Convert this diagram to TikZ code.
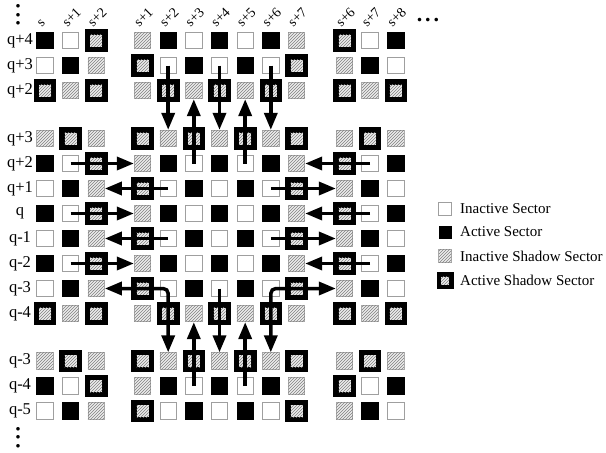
\documentclass[tikz,border=0pt]{standalone}
\usepackage{fontspec}
\setmainfont{Liberation Serif}
\usetikzlibrary{positioning,arrows.meta,patterns}

\begin{document}
\begin{tikzpicture}[
  x=1pt, y=-1pt,
  font=\fontsize{16.5}{18}\selectfont,
  ashin/.store in=\ashin, ashin=6pt,
  sq/.style={rectangle, minimum size=16.5pt, inner sep=0pt, line width=0.8pt},
  sqW/.style={sq, draw=gray!75, fill=white},
  sqB/.style={sq, draw=black, fill=black},
  sqH/.style={sq, draw=gray!65, fill=gray!15,
              postaction={pattern=north east lines, pattern color=gray}},
  sqA/.style={sq, minimum size=21.5pt, draw=black, fill=black,
              path picture={
                \fill[gray!15] (path picture bounding box.center) +(-\ashin,-\ashin) rectangle +(\ashin,\ashin);
                \fill[pattern=north east lines, pattern color=gray]
                  (path picture bounding box.center) +(-\ashin,-\ashin) rectangle +(\ashin,\ashin);}},
  sqX/.style={sqA},
  rowlab/.style={inner sep=0pt},
  collab/.style={inner sep=0pt, rotate=45, anchor=south west, font=\fontsize{14}{16}\selectfont},
  dots/.style={inner sep=0pt, font=\bfseries\fontsize{22}{24}\selectfont},
  flow/.style={-{Triangle[length=17pt,width=13pt]}, line width=3.5pt, draw=black},
  flow2/.style={flow, {Triangle[length=17pt,width=13pt]}-{Triangle[length=17pt,width=13pt]},
                rounded corners=5pt},
  legtxt/.style={anchor=west, inner sep=0pt, font=\fontsize{15}{17}\selectfont}
]
\useasboundingbox (0,0) rectangle (606,453);
\def\colx{{45,70.6,96.2,142.5,168.2,193.8,219.5,245.2,270.8,296.5,344.5,370.1,395.7}}

% sectors, row by row
\foreach \y/\lab/\types [count=\r] in {
  40.5/q+4/{B,W,A,H,B,W,B,W,B,H,A,W,B},
  65.5/q+3/{W,B,H,A,W,B,W,B,W,A,H,B,W},
  90.5/q+2/{A,H,A,H,X,H,X,H,X,H,A,H,A},
  138.5/q+3/{H,A,H,A,H,X,H,X,H,A,H,A,H},
  163.5/q+2/{B,W,X,H,B,W,B,W,B,H,X,W,B},
  188.5/q+1/{W,B,H,X,W,B,W,B,W,X,H,B,W},
  213.5/q/{B,W,X,H,B,W,B,W,B,H,X,W,B},
  238.5/q-1/{W,B,H,X,W,B,W,B,W,X,H,B,W},
  263.5/q-2/{B,W,X,H,B,W,B,W,B,H,X,W,B},
  288.5/q-3/{W,B,H,X,W,B,W,B,W,X,H,B,W},
  313.5/q-4/{A,H,A,H,X,H,X,H,X,H,A,H,A},
  361/q-3/{H,A,H,A,H,X,H,X,H,A,H,A,H},
  386/q-4/{B,W,A,H,B,W,B,W,B,H,A,W,B},
  411/q-5/{W,B,H,A,W,B,W,B,W,A,H,B,W}}{
  \node[rowlab] (row-\r) at (20,\y) {\lab};
  \foreach \t [count=\c] in \types {
    \pgfmathsetmacro\cx{\colx[\c-1]}
    \node[sq\t] (c-\r-\c) at (\cx,\y) {};
  }
}

% column labels
\foreach \s [count=\c] in {s,s+1,s+2,s+1,s+2,s+3,s+4,s+5,s+6,s+7,s+6,s+7,s+8} {
  \pgfmathsetmacro\cx{\colx[\c-1]}
  \node[collab] (col-\c) at (\cx-3,28) {\s};
}
\node[dots, rotate=-90] (vdtop) at (18,15) {.\hspace{3pt}.\hspace{3pt}.};
\node[dots, rotate=-90] (vdbot) at (18,437.5) {.\hspace{3pt}.\hspace{3pt}.};
\node[dots] (hdots) at (428,20) {.\hspace{3pt}.\hspace{3pt}.};

% horizontal moves
\foreach \r in {5,7,9} {
  \draw[flow] (c-\r-2.center) -- (c-\r-4.west);
  \draw[flow] (c-\r-12.center) -- (c-\r-10.east);
}
\foreach \r in {6,8} {
  \draw[flow] (c-\r-5.center) -- (c-\r-3.east);
  \draw[flow] (c-\r-9.center) -- (c-\r-11.west);
}
\draw[flow2] (c-10-3.east) -- (c-10-5.center) -- (c-12-5.north);
\draw[flow2] (c-10-11.west) -- (c-10-9.center) -- (c-12-9.north);

% vertical moves
\foreach \c in {5,7,9} \draw[flow] (c-2-\c.center) -- (c-4-\c.north);
\foreach \c in {6,8} {
  \draw[flow] (c-5-\c.center) -- (c-3-\c.south);
  \draw[flow] (c-13-\c.center) -- (c-11-\c.south);
}
\draw[flow] (c-10-7.center) -- (c-12-7.north);

% legend
\node[sqW, minimum size=13pt] (lgW) at (445,208.5) {};
\node[sqB, minimum size=12pt] (lgB) at (445,232) {};
\node[sqH, minimum size=12.5pt] (lgH) at (445,256) {};
\node[sqA, minimum size=16pt, ashin=4pt] (lgA) at (445,280.5) {};
\node[legtxt] (txW) at (460,208.5) {Inactive Sector};
\node[legtxt] (txB) at (460,232) {Active Sector};
\node[legtxt] (txH) at (460,256) {Inactive Shadow Sector};
\node[legtxt] (txA) at (460,280.5) {Active Shadow Sector};
\end{tikzpicture}
\end{document}
